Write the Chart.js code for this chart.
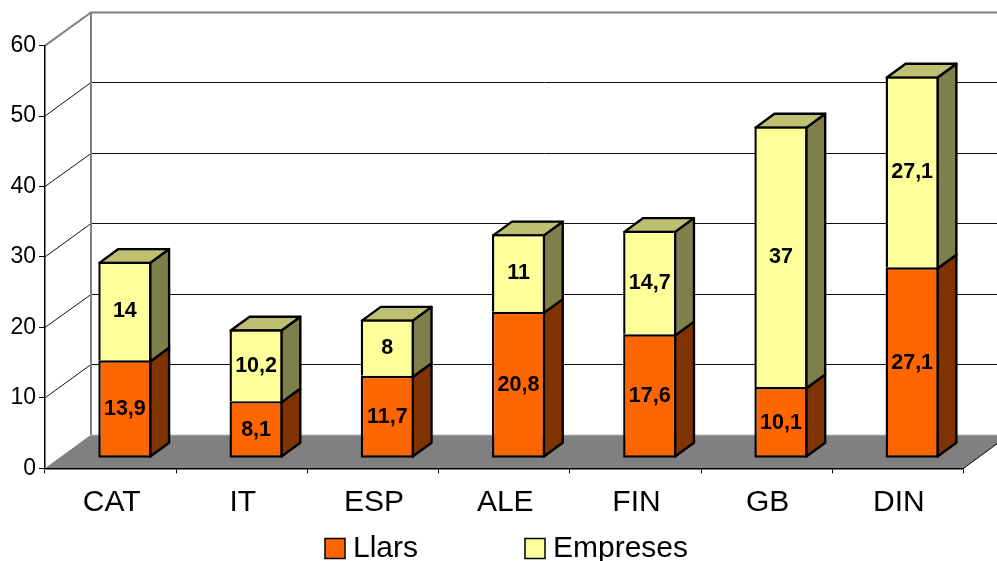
<!DOCTYPE html>
<html>
<head>
<meta charset="utf-8">
<title>Llars i Empreses</title>
<script src="https://cdn.jsdelivr.net/npm/chart.js@4"></script>
<style>
    body { margin: 0; background: #fff; }
    canvas { display: block; }
</style>
</head>
<body>
<canvas id="chart" width="997" height="561"></canvas>
<script>
const categories = ['CAT', 'IT', 'ESP', 'ALE', 'FIN', 'GB', 'DIN'];
const llars = [13.9, 8.1, 11.7, 20.8, 17.6, 10.1, 27.1];
const empreses = [14, 10.2, 8, 11, 14.7, 37, 27.1];

const FONT = '"Liberation Sans", Arial, sans-serif';

// Depth of the fake 3D box, and where the bars sit inside it
const DEPTH_X = 46;
const DEPTH_Y = 33.6;
const BAR_OFFSET_X = 0.31;
const BAR_OFFSET_Y = 0.3;
const BAR_DEPTH = 0.41;
const EDGE = 2.4;

function poly(ctx, pts, fill, stroke, lw) {
    ctx.beginPath();
    pts.forEach((p, i) => i ? ctx.lineTo(p[0], p[1]) : ctx.moveTo(p[0], p[1]));
    if (fill) {
        ctx.closePath();
        ctx.fillStyle = fill;
        ctx.fill();
    }
    if (stroke) {
        ctx.strokeStyle = stroke;
        ctx.lineWidth = lw;
        ctx.stroke();
    }
}

// Walls, floor and grid, all hung off the chart's own scales
const boxPlugin = {
    id: 'box3d',
    beforeDraw(chart) {
        const { ctx, chartArea: a, scales } = chart;
        const y = scales.y;
        poly(ctx, [[a.left, a.bottom], [a.left + DEPTH_X, a.bottom - DEPTH_Y],
            [a.right + DEPTH_X, a.bottom - DEPTH_Y], [a.right, a.bottom]], '#808080');
        poly(ctx, [[a.right, a.bottom], [a.right + DEPTH_X, a.bottom - DEPTH_Y]], null, '#000', 1);

        y.ticks.forEach((t) => {
            const fy = y.getPixelForValue(t.value);
            const py = Math.round(fy - DEPTH_Y) + 0.5;
            if (t.value === 0) {
                poly(ctx, [[a.left + DEPTH_X, py], [a.right + DEPTH_X, py]], null, '#999', 1);
                return;
            }
            const top = t.value === y.max;
            poly(ctx, [[a.left, fy], [a.left + DEPTH_X, py], [a.right + DEPTH_X, py]],
                null, top ? '#808080' : '#111', top ? 2 : 1);
        });
        poly(ctx, [[a.left + DEPTH_X, a.top - DEPTH_Y], [a.left + DEPTH_X, a.bottom - DEPTH_Y]], null, '#808080', 2);
    }
};

// Bar sides and tops, plus the value labels
const barsPlugin = {
    id: 'bars3d',
    beforeDatasetsDraw(chart) {
        const { ctx, data } = chart;
        const bx = DEPTH_X * BAR_DEPTH;
        const by = DEPTH_Y * BAR_DEPTH;
        ctx.save();
        ctx.translate(DEPTH_X * BAR_OFFSET_X, -DEPTH_Y * BAR_OFFSET_Y);
        ctx.lineJoin = 'round';
        data.datasets.forEach((ds, d) => {
            chart.getDatasetMeta(d).data.forEach((bar) => {
                const inset = EDGE / 2;
                const l = bar.x - bar.width / 2 + inset;
                const r = bar.x + bar.width / 2 - inset;
                const t = bar.y + inset;
                // upper segment shares its lower edge with the top of the one below
                const b = d === 0 ? bar.base - inset : bar.base + inset;
                poly(ctx, [[r, t], [r + bx, t - by], [r + bx, b - by], [r, b]], ds.sideColor, '#000', EDGE);
                if (d === data.datasets.length - 1) {
                    poly(ctx, [[l, t], [l + bx, t - by], [r + bx, t - by], [r, t]], ds.topColor, '#000', EDGE);
                }
            });
        });
    },
    afterDatasetsDraw(chart) {
        const { ctx, data } = chart;
        ctx.font = 'bold 21.5px ' + FONT;
        ctx.fillStyle = '#000';
        ctx.textAlign = 'center';
        ctx.textBaseline = 'middle';
        data.datasets.forEach((ds, d) => {
            chart.getDatasetMeta(d).data.forEach((bar, i) => {
                ctx.fillText(String(ds.data[i]).replace('.', ','), bar.x, (bar.y + bar.base) / 2 + 0.5);
            });
        });
        ctx.restore();
    },
    afterDraw(chart) {
        // legend spacing is wider than the built-in one allows
        const { ctx, data } = chart;
        const boxX = [325, 525];
        ctx.font = '30px ' + FONT;
        ctx.textAlign = 'left';
        ctx.textBaseline = 'alphabetic';
        data.datasets.forEach((ds, d) => {
            ctx.fillStyle = ds.backgroundColor;
            ctx.fillRect(boxX[d], 538.5, 20, 20);
            ctx.strokeStyle = '#000';
            ctx.lineWidth = 1.5;
            ctx.strokeRect(boxX[d], 538.5, 20, 20);
            ctx.fillStyle = '#000';
            ctx.fillText(ds.label, boxX[d] + 28, 557);
        });
    }
};

new Chart(document.getElementById('chart'), {
    type: 'bar',
    data: {
        labels: categories,
        datasets: [
            { label: 'Llars', data: llars, backgroundColor: '#FF6600', sideColor: '#7F3300',
              borderColor: '#000', borderWidth: EDGE, borderSkipped: false },
            { label: 'Empreses', data: empreses, backgroundColor: '#FFFF99', sideColor: '#7F7F4C', topColor: '#BFBF72',
              borderColor: '#000', borderWidth: EDGE, borderSkipped: 'bottom' }
        ]
    },
    options: {
        responsive: false,
        animation: false,
        layout: { padding: { top: 45.6, right: 33.5 } },
        barPercentage: 0.405,
        categoryPercentage: 1,
        plugins: { legend: { display: false }, tooltip: { enabled: false } },
        scales: {
            x: {
                stacked: true,
                afterFit(scale) { scale.height = 92.7; },
                border: { color: '#000', width: 1.5 },
                grid: { drawOnChartArea: false, color: '#000', tickLength: 5, offset: true },
                ticks: { color: '#000', font: { family: FONT, size: 30 }, padding: 11, labelOffset: 1, maxRotation: 0, autoSkip: false }
            },
            y: {
                stacked: true,
                min: 0,
                max: 60,
                afterFit(scale) { scale.width = 45; },
                border: { color: '#000', width: 1.5 },
                grid: { drawOnChartArea: false, color: '#000', tickLength: 6 },
                ticks: { color: '#000', font: { family: FONT, size: 23 }, stepSize: 10, padding: 3 }
            }
        }
    },
    plugins: [boxPlugin, barsPlugin]
});
</script>
</body>
</html>
